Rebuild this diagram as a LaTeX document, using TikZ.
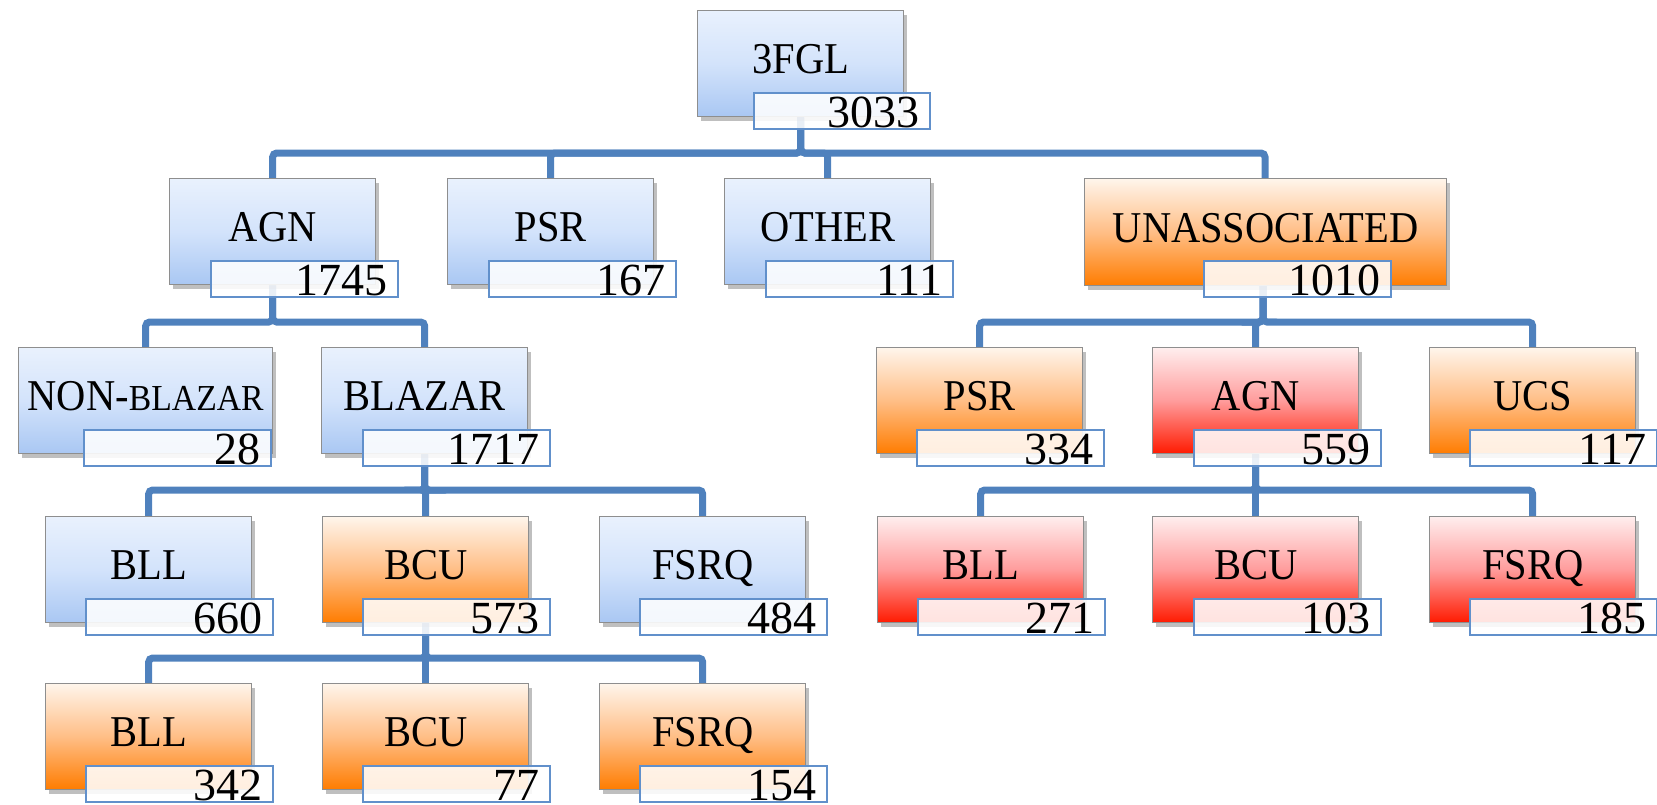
\documentclass[tikz,border=0pt]{standalone}
\usepackage{fontspec}
\setmainfont{Liberation Serif}
\newfontfamily\lblfont[FakeStretch=0.92]{Liberation Serif}
\usetikzlibrary{shadows,backgrounds}
\definecolor{connc}{HTML}{4F81BD}
\definecolor{boxline}{HTML}{8E8E8E}
\definecolor{cntline}{HTML}{6190CB}
\definecolor{blueTop}{HTML}{E9F1FD}
\definecolor{blueMid}{HTML}{D3E3FB}
\definecolor{blueBot}{HTML}{A9C7F3}
\definecolor{orTop}{HTML}{FFF5EB}
\definecolor{orMid}{HTML}{FFBE86}
\definecolor{orBot}{HTML}{FF7C00}
\definecolor{rdTop}{HTML}{FFEEEE}
\definecolor{rdMid}{HTML}{FF9C9C}
\definecolor{rdBot}{HTML}{FF1A00}
\tikzset{
  box/.style={draw=boxline, line width=0.7pt, anchor=north west,
    minimum width=103pt, minimum height=53pt, inner sep=0pt,
    text height=15pt, text depth=5pt,
    font=\lblfont\fontsize{22pt}{26pt}\selectfont,
    drop shadow={shadow xshift=1.5pt, shadow yshift=-2pt, opacity=0.25, fill=black}},
  bluebox/.style={box, top color=blueTop, bottom color=blueBot, middle color=blueMid},
  orbox/.style={box, top color=orTop, bottom color=orBot, middle color=orMid},
  rdbox/.style={box, top color=rdTop, bottom color=rdBot, middle color=rdMid},
  cnt/.style={draw=cntline, line width=1pt, fill=white, fill opacity=0.88, text opacity=1,
    anchor=north west, minimum width=93.5pt, minimum height=18pt,
    text width=82.5pt, align=right, inner xsep=5.5pt, inner ysep=0pt,
    text height=17pt, text depth=1pt,
    font=\fontsize{23pt}{26pt}\selectfont},
  conn/.style={draw=connc, line width=3.5pt, rounded corners=2pt},
}
\begin{document}
\begin{tikzpicture}[x=0.5pt,y=-0.5pt]
\useasboundingbox (0,0) rectangle (1657,804);
% row 1
\node[bluebox] (fgl) at (697,10) {3FGL};
\node[cnt, minimum width=88pt, text width=77pt] (fglN) at (753,92) {3033};
% row 2
\node[bluebox] (agn) at (169,178) {AGN};
\node[cnt] (agnN) at (210,260) {1745};
\node[bluebox] (psr) at (447,178) {PSR};
\node[cnt] (psrN) at (488,260) {167};
\node[bluebox] (oth) at (724,178) {OTHER};
\node[cnt] (othN) at (765,260) {111};
\node[orbox, minimum width=181pt, minimum height=53.5pt] (una) at (1084,178) {UNASSOCIATED};
\node[cnt] (unaN) at (1203,260) {1010};
% row 3
\node[bluebox, minimum width=127pt] (nbl) at (18,347) {NON-{\fontsize{18.3pt}{20pt}\selectfont BLAZAR}};
\node[cnt] (nblN) at (83,429) {28};
\node[bluebox] (bla) at (321,347) {BLAZAR};
\node[cnt] (blaN) at (362,429) {1717};
\node[orbox] (upsr) at (876,347) {PSR};
\node[cnt] (upsrN) at (916,429) {334};
\node[rdbox] (uagn) at (1152,347) {AGN};
\node[cnt] (uagnN) at (1193,429) {559};
\node[orbox] (ucs) at (1429,347) {UCS};
\node[cnt] (ucsN) at (1469,429) {117};
% row 4
\node[bluebox] (bll) at (45,516) {BLL};
\node[cnt] (bllN) at (85,598) {660};
\node[orbox] (bcu) at (322,516) {BCU};
\node[cnt] (bcuN) at (362,598) {573};
\node[bluebox] (fsrq) at (599,516) {FSRQ};
\node[cnt] (fsrqN) at (639,598) {484};
\node[rdbox] (ubll) at (877,516) {BLL};
\node[cnt] (ubllN) at (917,598) {271};
\node[rdbox] (ubcu) at (1152,516) {BCU};
\node[cnt] (ubcuN) at (1193,598) {103};
\node[rdbox] (ufsrq) at (1429,516) {FSRQ};
\node[cnt] (ufsrqN) at (1469,598) {185};
% row 5
\node[orbox] (bll2) at (45,683) {BLL};
\node[cnt] (bll2N) at (85,765) {342};
\node[orbox] (bcu2) at (322,683) {BCU};
\node[cnt] (bcu2N) at (362,765) {77};
\node[orbox] (fsrq2) at (599,683) {FSRQ};
\node[cnt] (fsrq2N) at (639,765) {154};
% connectors
\coordinate (b1) at (0,153);
\coordinate (b2) at (0,322);
\coordinate (b3) at (0,490);
\coordinate (b4) at (0,658);
\coordinate (unaIn) at (1265,178);
\coordinate (unaOut) at (1263,285);
\begin{pgfonlayer}{background}
\draw[conn] (fgl.south) -- (fgl.south |- b1) -| (agn.north);
\draw[conn] (fgl.south) -- (fgl.south |- b1) -| (psr.north);
\draw[conn] (fgl.south) -- (fgl.south |- b1) -| (oth.north);
\draw[conn] (fgl.south) -- (fgl.south |- b1) -| (unaIn);
\draw[conn] (agn.south) -- (agn.south |- b2) -| (nbl.north);
\draw[conn] (agn.south) -- (agn.south |- b2) -| (bla.north);
\draw[conn] (unaOut) -- (unaOut |- b2) -| (upsr.north);
\draw[conn] (unaOut) -- (unaOut |- b2) -| (uagn.north);
\draw[conn] (unaOut) -- (unaOut |- b2) -| (ucs.north);
\draw[conn] (bla.south) -- (bla.south |- b3) -| (bll.north);
\draw[conn] (bla.south) -- (bla.south |- b3) -| (bcu.north);
\draw[conn] (bla.south) -- (bla.south |- b3) -| (fsrq.north);
\draw[conn] (uagn.south) -- (uagn.south |- b3) -| (ubll.north);
\draw[conn] (uagn.south) -- (uagn.south |- b3) -| (ubcu.north);
\draw[conn] (uagn.south) -- (uagn.south |- b3) -| (ufsrq.north);
\draw[conn] (bcu.south) -- (bcu.south |- b4) -| (bll2.north);
\draw[conn] (bcu.south) -- (bcu.south |- b4) -| (bcu2.north);
\draw[conn] (bcu.south) -- (bcu.south |- b4) -| (fsrq2.north);
\end{pgfonlayer}
\end{tikzpicture}
\end{document}
